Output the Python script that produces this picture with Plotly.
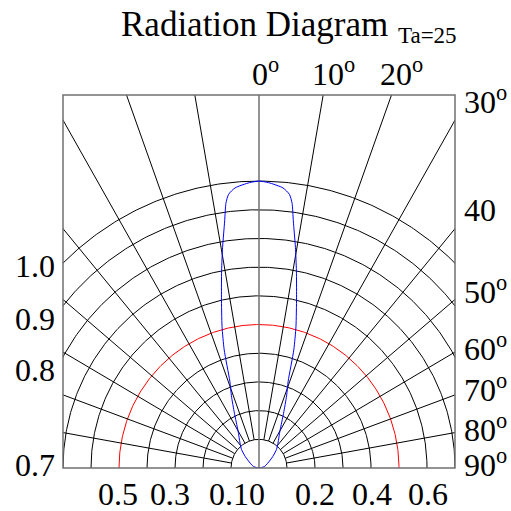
import numpy as np
import plotly.graph_objects as go

# grid of the radiation diagram (radius in units, 10 = relative intensity 1.0)
ring_radii = [1, 2, 3, 4, 6, 7, 8, 9, 10]
red_ring = 5
spoke_angles = [-80, -70, -60, -50, -40, -30, -20, -10, 10, 20, 30, 40, 50, 60, 70, 80]

# measured beam: angle from axis (deg) and relative intensity
beam_angle = [-90, -75, -62, -51, -44, -38, -30, -24.7, -21.4, -19, -16.8, -15, -12.7, -11,
              -9.6, -8.1, -7.3, -6.5, -5, -2, 0,
              2, 5, 6.5, 7.3, 8.1, 9.6, 11, 12.7, 15, 16.8, 19, 21.4, 24.7, 30, 38, 44, 51, 62, 75, 90]
beam_intensity = [0, 0.02, 0.035, 0.063, 0.09, 0.11, 0.15, 0.21, 0.27, 0.32, 0.43, 0.51, 0.61, 0.70,
                  0.78, 0.87, 0.93, 0.96, 0.98, 0.995, 1.0,
                  0.995, 0.98, 0.96, 0.93, 0.87, 0.78, 0.70, 0.61, 0.51, 0.43, 0.32, 0.27, 0.21, 0.15, 0.11, 0.09, 0.063, 0.035, 0.02, 0]

top_labels = ["0", "10", "20"]
right_labels = ["30", "40", "50", "60", "70", "80", "90"]
right_has_deg = [True, False, True, True, True, True, True]
left_labels = ["1.0", "0.9", "0.8", "0.7"]
bottom_labels = ["0.5", "0.3", "0.10", "0.2", "0.4", "0.6"]

W, H = 511, 511
L, R, T, B = 63, 56, 95, 43
FONT = "Liberation Serif, Times New Roman, serif"


def paper(px, py):
    return (px - L) / (W - L - R), (H - B - py) / (H - T - B)


fig = go.Figure()

arc = np.radians(np.linspace(-90, 90, 361))
for r in ring_radii:
    fig.add_trace(go.Scatter(x=r * np.sin(arc), y=r * np.cos(arc), mode="lines",
                             line=dict(color="black", width=1), hoverinfo="skip"))
fig.add_trace(go.Scatter(x=red_ring * np.sin(arc), y=red_ring * np.cos(arc), mode="lines",
                         line=dict(color="red", width=1), hoverinfo="skip"))

for a in spoke_angles:
    t = np.radians(a)
    fig.add_trace(go.Scatter(x=[np.sin(t), 30 * np.sin(t)], y=[np.cos(t), 30 * np.cos(t)], mode="lines",
                             line=dict(color="black", width=1), hoverinfo="skip"))
# centre axis
fig.add_trace(go.Scatter(x=[0, 0], y=[0, 13], mode="lines",
                         line=dict(color="#707070", width=1.5), hoverinfo="skip"))

bt = np.radians(beam_angle)
bi = np.array(beam_intensity) * 10
fig.add_trace(go.Scatter(x=bi * np.sin(bt), y=bi * np.cos(bt), mode="lines",
                         line=dict(color="blue", width=1, shape="spline", smoothing=0.6),
                         hoverinfo="skip"))

ann = []


def add_text(txt, px, py, size=32, xanchor="center"):
    x, y = paper(px, py)
    ann.append(dict(text=txt, x=x, y=y, xref="paper", yref="paper", showarrow=False,
                    xanchor=xanchor, yanchor="middle", font=dict(family=FONT, size=size, color="black")))


add_text("Radiation Diagram", 254, 24, size=35)
add_text("Ta=25", 396, 36, size=23, xanchor="left")

for txt, px in zip(top_labels, [250, 310, 378]):
    add_text(txt + "<sup>o</sup>", px, 72, xanchor="left")
for txt, deg, py in zip(right_labels, right_has_deg, [100, 210, 290, 347, 388, 428, 463]):
    add_text(txt + ("<sup>o</sup>" if deg else ""), 462, py, xanchor="left")
for txt, py in zip(left_labels, [266, 319, 370, 465]):
    add_text(txt, 35, py)
for txt, px in zip(bottom_labels, [118, 170, 237, 315, 372, 428]):
    add_text(txt, px, 494)

fig.update_layout(
    width=W, height=H,
    margin=dict(l=L, r=R, t=T, b=B),
    plot_bgcolor="white", paper_bgcolor="white",
    showlegend=False,
    xaxis=dict(range=[-7, 7], visible=False, fixedrange=True),
    yaxis=dict(range=[0, 13], visible=False, fixedrange=True),
    annotations=ann,
    shapes=[dict(type="rect", xref="paper", yref="paper", x0=0, y0=0, x1=1, y1=1,
                 line=dict(color="#707070", width=1.5))],
)

fig.write_html("out.html", config={"displayModeBar": False},
               post_script="document.body.style.margin='0';")
